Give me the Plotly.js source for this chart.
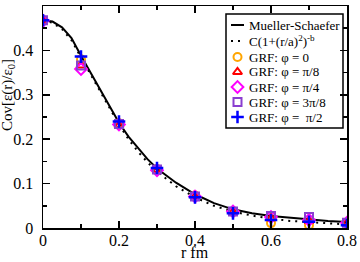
<!DOCTYPE html>
<html><head><meta charset="utf-8">
<script src="https://cdn.plot.ly/plotly-3.0.1.min.js"></script>
<style>html,body{margin:0;padding:0;background:#fff}#c{width:360px;height:262px}</style>
</head><body><div id="c"></div>
<script>
// Curves
const rCurve = [0,0.025,0.05,0.075,0.1,0.125,0.15,0.175,0.2,0.225,0.25,0.275,0.3,0.35,0.4,0.45,0.5,0.55,0.6,0.65,0.7,0.75,0.8];
const muellerSchaefer = [0.468,0.465,0.452,0.428,0.388,0.350,0.312,0.273,0.237,0.206,0.180,0.155,0.134,0.102,0.076,0.056,0.042,0.033,0.027,0.023,0.019,0.016,0.0135];
const powerFit = [0.468,0.462,0.448,0.423,0.384,0.346,0.307,0.269,0.233,0.200,0.172,0.148,0.127,0.094,0.069,0.050,0.037,0.028,0.021,0.016,0.013,0.010,0.008];
// GRF samples
const rGrf = [0,0.1,0.2,0.3,0.4,0.5,0.6,0.7,0.8];
const grfPhi0    = [0.468,0.380,0.236,0.133,0.073,0.037,0.011,0.006,0.011];
const grfPhiPi8  = [0.468,0.366,0.231,0.131,0.071,0.036,0.022,0.016,0.013];
const grfPhiPi4  = [0.467,0.358,0.233,0.130,0.071,0.037,0.025,0.018,0.012];
const grfPhi3Pi8 = [0.468,0.366,0.234,0.132,0.071,0.037,0.027,0.025,0.012];
const grfPhiPi2  = [0.468,0.386,0.240,0.135,0.069,0.033,0.018,0.014,0.006];
// Labels
const legendLabels = ['Mueller-Schaefer','C(1+(r/a)<sup>2</sup>)<sup>-b</sup>','GRF: φ = 0','GRF: φ = π/8','GRF: φ = π/4','GRF: φ = 3π/8','GRF: φ =  π/2'];
const xTitle = 'r fm';
const yTitle = 'Cov[ε(r)/ε<sub>0</sub>]';

const serif = "Liberation Serif";
const solidStyle = {color:'black', width:2};
const dotStyle = {color:'black', width:2, dash:'2px,5px'};
const markerStyles = [
  {symbol:'circle-open', color:'#FFA500', size:8, line:{width:2}},
  {symbol:'triangle-up-open', color:'#FF0000', size:8, line:{width:2}},
  {symbol:'diamond-open', color:'#FF00FF', size:9, line:{width:2}},
  {symbol:'square-open', color:'#8A3FD0', size:8, line:{width:2}},
  {symbol:'cross-thin-open', color:'#0000FF', size:9, line:{width:2.5, color:'#0000FF'}}
];
const grfSeries = [grfPhi0, grfPhiPi8, grfPhiPi4, grfPhi3Pi8, grfPhiPi2];

const traces = [
  {x:rCurve, y:muellerSchaefer, mode:'lines', line:solidStyle, showlegend:false},
  {x:rCurve, y:powerFit, mode:'lines', line:dotStyle, showlegend:false}
];
grfSeries.forEach((ys,i)=>traces.push({x:rGrf, y:ys, mode:'markers', marker:markerStyles[i], showlegend:false}));

// Manual legend (pixel geometry -> paper coords of plot area)
const L = 43, W = 304, B = 228, H = 222;
const px = v => (v - L) / W, py = v => (B - v) / H;
const rowsY = [25, 41, 57, 72, 87, 102, 117];
const symX0 = 231, symX1 = 244, symXc = 237.5, textX = 248;
const annotations = [];
legendLabels.forEach((t,i)=>annotations.push({xref:'paper', yref:'paper', x:px(textX), y:py(rowsY[i]), xanchor:'left', yanchor:'middle', text:t, showarrow:false, borderpad:0, font:{family:serif, size:13, color:'black'}}));
annotations.push({xref:'paper', yref:'paper', x:px(195), y:py(252), xanchor:'center', yanchor:'middle', text:xTitle, showarrow:false, borderpad:0, font:{family:serif, size:16, color:'black'}});
annotations.push({xref:'paper', yref:'paper', x:px(8), y:py(95), xanchor:'center', yanchor:'middle', textangle:-90, text:yTitle, showarrow:false, borderpad:0, font:{family:serif, size:15, color:'black'}});
traces.push({x:[px(symX0), px(symX1)], y:[py(rowsY[0]), py(rowsY[0])], xaxis:'x2', yaxis:'y2', mode:'lines', line:solidStyle, showlegend:false});
traces.push({x:[px(symX0), px(symX1)], y:[py(rowsY[1]), py(rowsY[1])], xaxis:'x2', yaxis:'y2', mode:'lines', line:dotStyle, showlegend:false});
markerStyles.forEach((m,i)=>traces.push({x:[px(symXc)], y:[py(rowsY[i+2])], xaxis:'x2', yaxis:'y2', mode:'markers', marker:m, showlegend:false}));

const axisCommon = {showline:true, linecolor:'black', linewidth:1.5, mirror:'ticks', ticks:'inside', ticklen:7, tickcolor:'black', tickwidth:1.5, showgrid:false, zeroline:false, tickfont:{family:serif, size:16, color:'black'}};
const layout = {
  width:360, height:262,
  margin:{l:43, r:13, t:6, b:34},
  paper_bgcolor:'white', plot_bgcolor:'white',
  showlegend:false,
  xaxis: Object.assign({}, axisCommon, {range:[0,0.8], dtick:0.2, tick0:0, ticklabelstandoff:-3, minor:{dtick:0.1, ticks:'inside', ticklen:4, tickcolor:'black', tickwidth:1.5}}),
  yaxis: Object.assign({}, axisCommon, {range:[0,0.5], dtick:0.1, tick0:0, ticklabelstandoff:5, minor:{dtick:0.05, ticks:'inside', ticklen:4, tickcolor:'black', tickwidth:1.5}}),
  xaxis2:{overlaying:'x', range:[0,1], visible:false, fixedrange:true},
  yaxis2:{overlaying:'y', range:[0,1], visible:false, fixedrange:true},
  shapes:[{type:'rect', xref:'paper', yref:'paper', x0:px(226), x1:px(343), y0:py(128), y1:py(14), line:{color:'black', width:1.5}, fillcolor:'white', layer:'below'}],
  annotations: annotations
};
Plotly.newPlot('c', traces, layout, {staticPlot:true, displayModeBar:false});
</script>
</body></html>
